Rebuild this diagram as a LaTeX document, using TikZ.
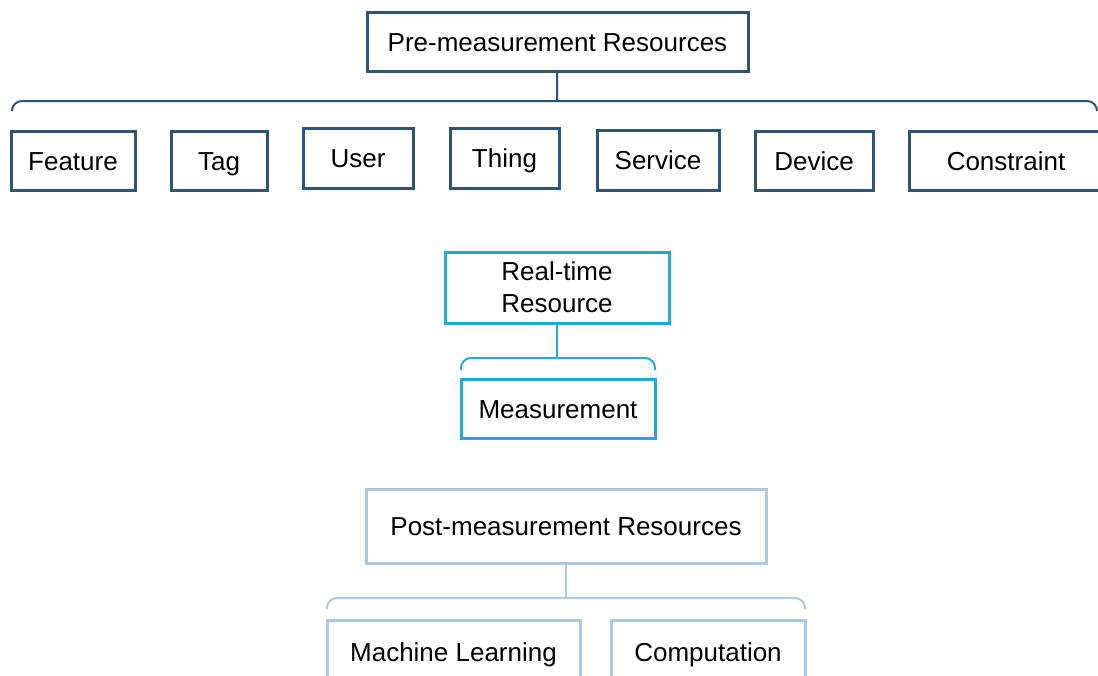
\documentclass[tikz,border=0pt]{standalone}
\usepackage{fontspec}
\setmainfont{Liberation Sans}
\definecolor{preblue}{RGB}{47,83,114}
\definecolor{rtcyan}{RGB}{32,168,214}
\definecolor{postblue}{RGB}{170,201,222}
\tikzset{
  res/.style={draw,line width=3pt,inner sep=0pt,align=center,text=black,
    font=\fontsize{26}{32}\selectfont,minimum height=59pt,
    text height=22pt,text depth=3pt},
  preres/.style={res,draw=preblue},
  rtres/.style={res,draw=rtcyan},
  postres/.style={res,draw=postblue},
  brk/.style={line width=2pt,rounded corners=10pt}
}
\begin{document}
\begin{tikzpicture}[x=1pt,y=-1pt]
\useasboundingbox (0,0) rectangle (1098,675);

% pre-measurement
\node[preres,minimum width=381pt] (pre) at (557.5,41.5) {Pre-measurement Resources};
\node[preres,minimum width=124pt] (feature) at (73,160.5) {Feature};
\node[preres,minimum width=96pt] (tag) at (219,160.5) {Tag};
\node[preres,minimum width=110pt,minimum height=60pt] (user) at (358,158) {User};
\node[preres,minimum width=109pt,minimum height=60pt] (thing) at (504.5,158) {Thing};
\node[preres,minimum width=122pt,minimum height=60pt] (service) at (658,160) {Service};
\node[preres,minimum width=118pt] (device) at (814,160.5) {Device};
\node[preres,minimum width=194pt] (constraint) at (1006,160.5) {Constraint};
\coordinate (prebr) at (557,101);
\draw[brk,preblue] (12,111) -- (12,101) -- (1097,101) -- (1097,111);
\draw[line width=2pt,preblue] (pre) -- (prebr);

% real-time
\node[rtres,minimum width=224pt,minimum height=71pt,text height=,text depth=] (rt) at (557,287.5) {Real-time\\Resource};
\node[rtres,minimum width=194pt] (meas) at (558,408.5) {Measurement};
\coordinate (rtbr) at (557,358);
\draw[brk,rtcyan] (461,370) -- (461,358) -- (655,358) -- (655,370);
\draw[line width=2pt,rtcyan] (rt) -- (rtbr);

% post-measurement
\node[postres,minimum width=400pt,minimum height=74pt] (post) at (566,526) {Post-measurement Resources};
\node[postres,minimum width=253pt,minimum height=64pt] (ml) at (453.5,652) {Machine Learning};
\node[postres,minimum width=194pt,minimum height=64pt] (comp) at (708,652) {Computation};
\coordinate (postbr) at (566,598);
\draw[brk,postblue] (327,609) -- (327,598) -- (805,598) -- (805,609);
\draw[line width=2pt,postblue] (post) -- (postbr);
\end{tikzpicture}
\end{document}
